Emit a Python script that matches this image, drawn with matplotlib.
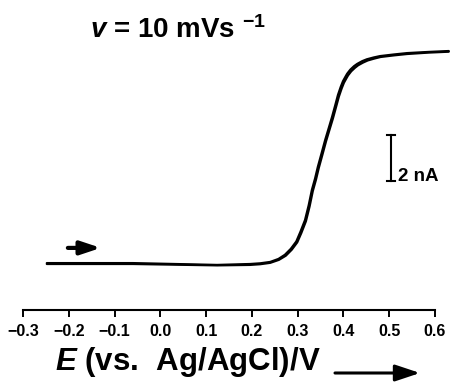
import matplotlib
matplotlib.use("Agg")
import matplotlib.pyplot as plt

# ---- data ----
# forward scan: potential (V vs Ag/AgCl) and current (nA)
E_fwd = [-0.248, -0.060, 0.124, 0.196, 0.218, 0.240, 0.258, 0.272, 0.285,
         0.297, 0.306, 0.316, 0.324, 0.331, 0.338, 0.344, 0.352, 0.360,
         0.368, 0.375, 0.382, 0.388, 0.394, 0.399, 0.404, 0.408, 0.415,
         0.423, 0.430, 0.441, 0.451, 0.466, 0.480, 0.510, 0.539, 0.585,
         0.630]
I_fwd = [0.04, 0.04, -0.04, 0.00, 0.03, 0.09, 0.22, 0.40, 0.66,
         0.98, 1.40, 1.91, 2.55, 3.22, 3.72, 4.22, 4.80, 5.39,
         5.92, 6.39, 6.90, 7.35, 7.70, 7.95, 8.13, 8.27, 8.45,
         8.60, 8.70, 8.82, 8.90, 8.98, 9.04, 9.11, 9.17, 9.22,
         9.26]
# reverse scan (nearly coincident)
E_rev = [-0.248, -0.060, 0.124, 0.196, 0.218, 0.240, 0.259, 0.274, 0.287,
         0.299, 0.308, 0.318, 0.326, 0.333, 0.340, 0.346, 0.354, 0.362,
         0.370, 0.377, 0.384, 0.390, 0.396, 0.401, 0.406, 0.410, 0.417,
         0.425, 0.432, 0.443, 0.453, 0.467, 0.481, 0.510, 0.539, 0.585,
         0.630]
I_rev = [0.00, 0.00, -0.06, -0.04, -0.01, 0.05, 0.18, 0.36, 0.62,
         0.94, 1.35, 1.86, 2.50, 3.17, 3.67, 4.17, 4.75, 5.34,
         5.87, 6.33, 6.84, 7.28, 7.63, 7.88, 8.06, 8.20, 8.38,
         8.53, 8.64, 8.76, 8.85, 8.93, 9.00, 9.07, 9.13, 9.19,
         9.23]

x_ticks = [-0.3, -0.2, -0.1, 0.0, 0.1, 0.2, 0.3, 0.4, 0.5, 0.6]
x_ticklabels = ["\u22120.3", "\u22120.2", "\u22120.1", "0.0", "0.1", "0.2",
                "0.3", "0.4", "0.5", "0.6"]
scale_bar_nA = 2.0

plt.rcParams['font.family'] = ['Liberation Sans', 'DejaVu Sans']
plt.rcParams['mathtext.fontset'] = 'custom'
plt.rcParams['mathtext.rm'] = 'Liberation Sans:bold'
plt.rcParams['mathtext.it'] = 'Liberation Sans:bold:italic'

W, H = 451, 385
fig = plt.figure(figsize=(W / 100, H / 100), dpi=100)
ax = fig.add_axes([23 / W, 75 / H, 428 / W, 310 / H])

ax.plot(E_fwd, I_fwd, color='black', lw=1.6, solid_capstyle='round',
        solid_joinstyle='round')
ax.plot(E_rev, I_rev, color='black', lw=1.6, solid_capstyle='round',
        solid_joinstyle='round')

ax.set_xlim(-0.3, -0.3 + 428 / 457.8)
ax.set_ylim(-2.0, 264 / 23)

for s in ['top', 'right', 'left']:
    ax.spines[s].set_visible(False)
ax.spines['bottom'].set_bounds(-0.3, 0.6)
ax.spines['bottom'].set_linewidth(1.5)
ax.set_yticks([])
ax.set_xticks(x_ticks)
ax.set_xticklabels(x_ticklabels, fontsize=11.5, fontweight='bold')
ax.tick_params(axis='x', direction='out', length=5, width=1.4, pad=5)

# scan-direction arrow
ax.annotate('', xy=(-0.130, 0.70), xytext=(-0.202, 0.70),
            arrowprops=dict(arrowstyle='-|>,head_length=0.6,head_width=0.2',
                            mutation_scale=20, lw=3, color='black',
                            shrinkA=0, shrinkB=0))

# current scale bar
E_bar = 0.504
I_bar0 = 3.6
ax.plot([E_bar, E_bar], [I_bar0, I_bar0 + scale_bar_nA], color='black', lw=1.5)
ax.plot([E_bar - 0.009, E_bar + 0.009], [I_bar0, I_bar0], color='black', lw=1.5)
ax.plot([E_bar - 0.009, E_bar + 0.009], [I_bar0 + scale_bar_nA] * 2,
        color='black', lw=1.5)
ax.text(E_bar + 0.015, I_bar0, f"{scale_bar_nA:g} nA", fontsize=13.5,
        fontweight='bold', va='baseline', ha='left')

# title
fig.text(90 / W, (H - 38) / H, r"$v$ = 10 mVs $^{\mathregular{-1}}$",
         fontsize=20, fontweight='bold', va='baseline', ha='left')

# x label with arrow
fig.text(55 / W, (H - 370) / H, r"$E$ (vs.  Ag/AgCl)/V", fontsize=22.5,
         fontweight='bold', va='baseline', ha='left')
ax.annotate('', xy=(420, H - 373), xytext=(335, H - 373),
            xycoords='figure pixels', textcoords='figure pixels',
            arrowprops=dict(arrowstyle='-|>,head_length=0.75,head_width=0.25',
                            mutation_scale=20, lw=2.2, color='black',
                            shrinkA=0, shrinkB=0))

fig.savefig('out.png', dpi=100)
